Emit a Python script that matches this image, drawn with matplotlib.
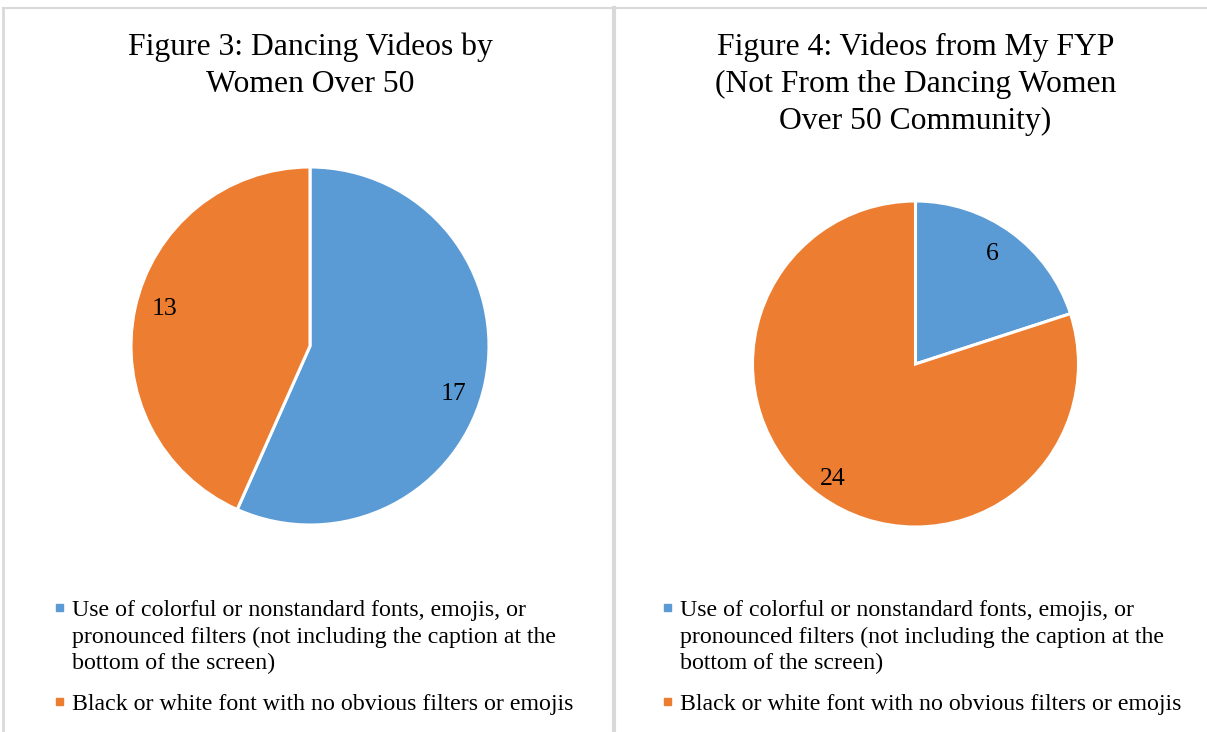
import matplotlib
matplotlib.use("Agg")
import matplotlib.pyplot as plt
from matplotlib.patches import Rectangle
from matplotlib.lines import Line2D

plt.rcParams['font.family'] = ['Liberation Serif', 'DejaVu Serif']

categories = ["Use of colorful or nonstandard fonts, emojis, or pronounced filters (not including the caption at the bottom of the screen)",
              "Black or white font with no obvious filters or emojis"]
legend_lines = [["Use of colorful or nonstandard fonts, emojis, or",
                 "pronounced filters (not including the caption at the",
                 "bottom of the screen)"],
                ["Black or white font with no obvious filters or emojis"]]
fig3_values = [17, 13]
fig4_values = [6, 24]
titles = [["Figure 3: Dancing Videos by", "Women Over 50"],
          ["Figure 4: Videos from My FYP", "(Not From the Dancing Women", "Over 50 Community)"]]
colors = ["#5B9BD5", "#ED7D31"]

W, H = 1207, 732
fig = plt.figure(figsize=(W / 100, H / 100), dpi=100)
fig.patch.set_facecolor("white")

def fx(px):
    return px / W

def fy(py):
    return 1 - py / H

# frame lines
grey = "#d9d9d9"
fig.add_artist(Line2D([fx(3), 1], [fy(8), fy(8)], color=grey, lw=1.5, transform=fig.transFigure))
fig.add_artist(Line2D([fx(3), fx(3)], [fy(8), 0], color=grey, lw=2, transform=fig.transFigure))
fig.add_artist(Line2D([fx(613.5), fx(613.5)], [fy(8), 0], color=grey, lw=3, transform=fig.transFigure))

# Excel "best fit" label spots (fraction of radius)
panels = [
    dict(values=fig3_values, cx=310, cy=346, r=179, x0=0,
         lab=[(0.80, -0.27), (-0.81, 0.205)]),
    dict(values=fig4_values, cx=915.5, cy=364, r=163, x0=608,
         lab=[(0.47, 0.675), (-0.51, -0.705)]),
]

for i, p in enumerate(panels):
    ax = fig.add_axes([fx(p["cx"] - p["r"]), fy(p["cy"] + p["r"]),
                       fx(2 * p["r"]), 2 * p["r"] / H])
    vals = p["values"]
    wedges, texts, autotexts = ax.pie(
        vals, colors=colors, startangle=90, counterclock=False,
        wedgeprops=dict(edgecolor="white", linewidth=2.2),
        autopct=lambda pct, v=vals: "%d" % round(pct * sum(v) / 100),
        textprops=dict(fontsize=18.5, color="black"))
    for t, pos in zip(autotexts, p["lab"]):
        t.set_position(pos)
    ax.set_xlim(-1, 1)
    ax.set_ylim(-1, 1)

    # title
    for j, line in enumerate(titles[i]):
        fig.text(fx(p["cx"]), fy(55 + j * 36.8), line, ha="center", va="baseline", fontsize=22.8)

    # legend
    x0 = p["x0"]
    base = 616
    for k, lines in enumerate(legend_lines):
        fig.patches.append(Rectangle((fx(x0 + 56), fy(base - 5)), fx(7), 7 / H,
                                     color=colors[k], transform=fig.transFigure))
        for j, line in enumerate(lines):
            fig.text(fx(x0 + 72), fy(base + j * 26.5), line, ha="left", va="baseline", fontsize=17.2)
        base += len(lines) * 26.5 + 14.5

fig.savefig("out.png", dpi=100)
